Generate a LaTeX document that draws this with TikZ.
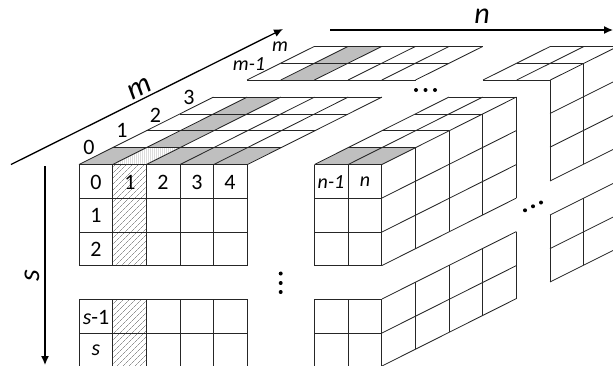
\documentclass[tikz,border=0pt]{standalone}
\usepackage{fontspec}
\setmainfont{Carlito}
\usetikzlibrary{patterns.meta,arrows.meta}
\tikzset{
  grid/.style={draw=black!85,line width=0.85pt},
  shade/.style={fill=black!25},
  spots/.style={pattern={Dots[radius=0.4pt,distance=2pt,xshift=0.5pt]},pattern color=black!60},
  hatch/.style={pattern={Lines[angle=45,distance=4pt,line width=0.35pt]},pattern color=black!65},
  axis/.style={draw=black,line width=1.3pt,-{Latex[length=9pt,width=8pt]}},
  lab/.style={font=\fontsize{22}{22}\selectfont,inner sep=0pt},
  ilab/.style={font=\fontsize{20}{20}\selectfont\itshape,inner sep=0pt},
  big/.style={font=\fontsize{30}{30}\selectfont\itshape,inner sep=0pt},
  dot/.style={circle,fill=black,inner sep=0pt,minimum size=4pt}
}
\def\cw{33.7}
\def\dx{33.6}
\def\dy{16.85}
\begin{document}
\begin{tikzpicture}[x=1pt,y=-1pt]
\useasboundingbox (0,0) rectangle (613,365);
\begin{scope}
\clip (0,0) rectangle (613,365);
% ---- front-left top slab shading
\path[shade] (79,164.5) -- (113,164.5) -- (146.6,147.65) -- (112.6,147.65) -- cycle;
\path[spots] (113,164.5) -- (146.7,164.5) -- (180.3,147.65) -- (146.6,147.65) -- cycle;
\path[shade] (146.7,164.5) -- (247,164.5) -- (280.6,147.65) -- (180.3,147.65) -- cycle;
\path[shade] (146.6,147.65) -- (180.3,147.65) -- (281,97) -- (247.3,97) -- cycle;
\path[hatch] (113,164.5) rectangle (146.7,265.5);
\path[hatch] (113,299) rectangle (146.7,366);
% top slab lines
\foreach \c in {0,...,5} \draw[grid] ({79+\c*\cw},164.5) -- ++({4*\dx},{-4*\dy});
\draw[grid] (112.6,147.65) -- (281,147.65);
\draw[grid] (146.2,130.8) -- (314.6,130.8);
\draw[grid] (179.8,114) -- (348.2,114);
\draw[grid] (213.4,97) -- (381.6,97);
% front faces of left block
\foreach \y in {164.5,198,232,265.5} \draw[grid] (79,\y) -- (247.5,\y);
\foreach \c in {0,...,5} \draw[grid] ({79+\c*\cw},164.5) -- ({79+\c*\cw},265.5);
\foreach \y in {299,333,366} \draw[grid] (79,\y) -- (247.5,\y);
\foreach \c in {0,...,5} \draw[grid] ({79+\c*\cw},299) -- ({79+\c*\cw},366);
% far slab m-1, m
\path[shade] (280.6,80) -- (314.3,80) -- (381.5,46.5) -- (347.8,46.5) -- cycle;
\foreach \c in {0,...,5} \draw[grid] ({247+\c*\cw},80) -- ++(67.2,-33.5);
\draw[grid] (247,80) -- (415.5,80);
\draw[grid] (280.6,63.2) -- (449,63.2);
\draw[grid] (314.2,46.5) -- (482.7,46.5);
% block n-1, n
\path[shade] (314.5,164.5) -- (381.9,164.5) -- (415.5,147.65) -- (348.1,147.65) -- cycle;
\foreach \c in {0,1,2} \draw[grid] ({314.5+\c*\cw},164.5) -- ++({4*\dx},{-4*\dy});
\draw[grid] (348.1,147.65) -- (415.5,147.65);
\draw[grid] (381.7,130.8) -- (449.1,130.8);
\draw[grid] (415.3,114) -- (482.7,114);
\draw[grid] (448.9,97) -- (516.3,97);
\foreach \y in {164.5,198,232,265.5} \draw[grid] (314.5,\y) -- (382,\y);
\foreach \c in {0,1,2} \draw[grid] ({314.5+\c*\cw},164.5) -- ({314.5+\c*\cw},265.5);
\foreach \y in {198,232,265.5} \draw[grid] (382,\y) -- (516.3,{\y-67.4});
\foreach \d in {1,...,4} \draw[grid] ({382+\d*\dx},{164.5-\d*\dy}) -- ({382+\d*\dx},{265.5-\d*\dy});
% lower block
\foreach \y in {299,333,366} \draw[grid] (314.5,\y) -- (382,\y);
\foreach \c in {0,1,2} \draw[grid] ({314.5+\c*\cw},299) -- ({314.5+\c*\cw},366);
\foreach \y in {299,333,366} \draw[grid] (382,\y) -- (516.3,{\y-67.4});
\foreach \d in {1,...,4} \draw[grid] ({382+\d*\dx},{299-\d*\dy}) -- ({382+\d*\dx},{366-\d*\dy});
% far right top
\foreach \c in {0,1,2} \draw[grid] ({483+\c*\cw},80) -- ++(67.2,-33.5);
\draw[grid] (483,80) -- (550,80);
\draw[grid] (516.5,63.2) -- (584,63.2);
\draw[grid] (550,46.5) -- (617,46.5);
\draw[grid] (550,80) -- (550,181);
\draw[grid] (583.7,63.2) -- (583.7,164);
\foreach \y in {113.5,147.2,181} \draw[grid] (550,\y) -- (630,{\y-40});
% far right lower
\draw[grid] (550,215) -- (550,282);
\draw[grid] (583.7,198) -- (583.7,265);
\foreach \y in {215,248.6,282} \draw[grid] (550,\y) -- (630,{\y-40});
\end{scope}
% axes
\coordinate (mA) at (11,164.5); \coordinate (mB) at (283,29);
\coordinate (nA) at (330,30); \coordinate (nB) at (613,30);
\coordinate (sA) at (45,166); \coordinate (sB) at (45,365);
\draw[axis] (mA) -- (mB);
\draw[axis] (nA) -- (nB);
\draw[axis] (sA) -- (sB);
\node[big,rotate=27] (lm) at (139.5,89) {m};
\node[big] (ln) at (482,16) {n};
\node[big,rotate=90] (ls) at (32,276) {s};
% depth labels
\node[lab] (d0) at (89,147) {0};
\node[lab] (d1) at (122,130.5) {1};
\node[lab] (d2) at (155.5,115) {2};
\node[lab] (d3) at (189,97) {3};
\node[ilab] (dm1) at (249,64) {m-1};
\node[ilab] (dm) at (280,47) {m};
% cells
\node[lab] (c0) at (96,182) {0};
\node[lab] (c1) at (130,182) {1};
\node[lab] (c2) at (163,182) {2};
\node[lab] (c3) at (197,182) {3};
\node[lab] (c4) at (230,182) {4};
\node[lab] (r1) at (96,215) {1};
\node[lab] (r2) at (96,249) {2};
\node[lab] (rs1) at (96,317) {\textit{s}-1};
\node[lab] (rs) at (96,350) {\textit{s}};
\node[ilab] (cn1) at (331,182) {n-1};
\node[ilab] (cn) at (365,182) {n};
% ellipses
\node[dot] (a1) at (416,90) {}; \node[dot] (a2) at (425.5,90) {}; \node[dot] (a3) at (435,90) {};
\node[dot] (b1) at (280.7,273.5) {}; \node[dot] (b2) at (280.7,283) {}; \node[dot] (b3) at (280.7,292) {};
\node[dot] (e1) at (525,210.3) {}; \node[dot] (e2) at (533,206.3) {}; \node[dot] (e3) at (541,202.5) {};
\end{tikzpicture}
\end{document}
